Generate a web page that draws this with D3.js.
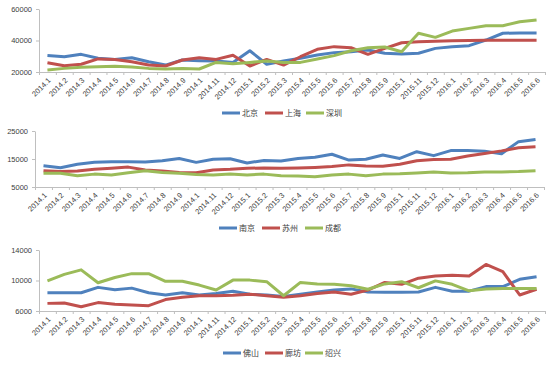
<!DOCTYPE html>
<html><head><meta charset="utf-8">
<script src="https://cdn.jsdelivr.net/npm/d3@7"></script>
<style>
body{margin:0;background:#fff;}
svg{display:block;}
text{font-family:"Liberation Sans",Arial,sans-serif;fill:#404040;}
.leg{font-family:"Noto Sans CJK SC",sans-serif;font-size:8px;}
</style></head><body>
<svg id="c" width="547" height="371"></svg>
<script>
const months = ["2014.1","2014.2","2014.3","2014.4","2014.5","2014.6","2014.7","2014.8","2014.9","2014.1","2014.11","2014.12",
"2015.1","2015.2","2015.3","2015.4","2015.5","2015.6","2015.7","2015.8","2015.9","2015.1","2015.11","2015.12",
"2016.1","2016.2","2016.3","2016.4","2016.5","2016.6"];

const beijing  = [30500,29700,31200,28700,28000,29100,26500,24400,27600,27200,27000,26000,33500,24900,27000,28700,30800,32300,32900,34000,31900,31400,31900,35000,36100,36700,40300,44600,44800,44800];
const shanghai = [25900,24000,24900,28300,28000,26500,24400,23800,27600,29100,28000,30600,23800,28000,24400,29700,34400,36100,35400,31200,35000,38600,39200,39500,39800,40000,40100,40100,40200,40200];
const shenzhen = [21300,22300,23000,23400,23600,23200,22300,21900,22300,21900,26100,25300,26100,27000,26100,26100,28300,30400,33500,35400,35900,32900,44600,42000,46000,47700,49400,49400,51900,53000];

const nanjing  = [12600,11900,13100,13800,14000,14000,13900,14400,15200,13800,14900,15100,13600,14500,14300,15200,15600,16700,14600,14900,16400,15200,17600,16200,18000,18000,17800,16900,21200,22000];
const suzhou   = [10800,10500,10700,11300,11700,12100,11100,10700,10200,10100,11100,11300,11700,11800,11700,11800,12000,12300,12900,12500,12400,13100,14400,14800,14900,16100,17000,17900,19000,19400];
const chengdu  = [9900,9900,9000,9600,9300,10100,10800,10200,9900,9500,9300,9600,9300,9600,9000,8900,8700,9300,9600,9000,9600,9700,10000,10400,10000,10100,10400,10400,10500,10800];

const foshan   = [8400,8400,8400,9100,8800,9000,8400,8100,8400,8100,8300,8600,8200,8100,7900,8200,8500,8750,8900,8500,8450,8450,8500,9100,8600,8600,9200,9200,10150,10500];
const langfang = [7000,7050,6550,7100,6900,6800,6700,7500,7800,8000,8000,8050,8200,8000,7800,8000,8300,8500,8200,8750,9750,9500,10300,10600,10700,10600,12100,11150,8100,8850];
const shaoxing = [9950,10800,11400,9700,10400,10900,10900,9900,9900,9400,8750,10050,10050,9850,8000,9750,9550,9500,9300,8850,9550,9850,9050,9950,9500,8650,8900,8950,8950,8950];

const yTicks1 = [20000,40000,60000];
const yTicks2 = [5000,15000,25000];
const yTicks3 = [6000,10000,14000];

const colors = ["#4F81BD","#C0504D","#9BBB59"];

const charts = [
  {names:["北京","上海","深圳"], series:[beijing,shanghai,shenzhen], ticks:yTicks1, x0:39, x1:545, yTop:9, yBot:72, legY:113, legX:[222,265,306]},
  {names:["南京","苏州","成都"], series:[nanjing,suzhou,chengdu], ticks:yTicks2, x0:35, x1:544, yTop:131, yBot:187, legY:228, legX:[219,262,305]},
  {names:["佛山","廊坊","绍兴"], series:[foshan,langfang,shaoxing], ticks:yTicks3, x0:39, x1:545, yTop:250, yBot:311, legY:353, legX:[223,265,305]}
];

const svg = d3.select("#c");
const axisColor = "#bfbfbf";

charts.forEach(c => {
  const g = svg.append("g");
  const n = months.length;
  const xb = d3.scaleLinear().domain([0,n]).range([c.x0,c.x1]);
  const x = i => xb(i+0.5);
  const y = d3.scaleLinear().domain([c.ticks[0], c.ticks[c.ticks.length-1]]).range([c.yBot,c.yTop]);

  // y axis
  const ya = g.append("g").attr("transform",`translate(${c.x0},0)`)
    .call(d3.axisLeft(y).tickValues(c.ticks).tickSize(3).tickSizeOuter(0).tickPadding(4).tickFormat(d3.format("d")));
  ya.select(".domain").attr("stroke",axisColor);
  ya.selectAll(".tick line").attr("stroke",axisColor);
  ya.selectAll("text").style("font-size","7.5px").attr("fill","#404040");

  // x axis ticks at category boundaries
  const xa = g.append("g").attr("transform",`translate(0,${c.yBot})`)
    .call(d3.axisBottom(xb).tickValues(d3.range(n+1)).tickSize(3).tickSizeOuter(0).tickFormat(""));
  xa.select(".domain").attr("stroke",axisColor);
  xa.selectAll(".tick line").attr("stroke",axisColor);

  // x labels
  g.selectAll(".xl").data(months).enter().append("text")
    .attr("class","xl")
    .attr("text-anchor","end")
    .attr("transform",(d,i)=>`translate(${x(i)+2},${c.yBot+7}) rotate(-45)`)
    .attr("dy","0.35em")
    .style("font-size","7.5px")
    .text(d=>d);

  // lines
  const line = d3.line().x((d,i)=>x(i)).y(d=>y(d));
  c.series.forEach((s,k) => {
    g.append("path").datum(s).attr("d",line)
      .attr("fill","none").attr("stroke",colors[k]).attr("stroke-width",3)
      .attr("stroke-linejoin","round");
  });

  // legend
  c.names.forEach((nm,k) => {
    const lx = c.legX[k];
    g.append("line").attr("x1",lx).attr("x2",lx+18).attr("y1",c.legY).attr("y2",c.legY)
      .attr("stroke",colors[k]).attr("stroke-width",3);
    g.append("text").attr("class","leg").attr("x",lx+20).attr("y",c.legY).attr("dy","0.35em").text(nm);
  });
});
</script>
</body></html>
